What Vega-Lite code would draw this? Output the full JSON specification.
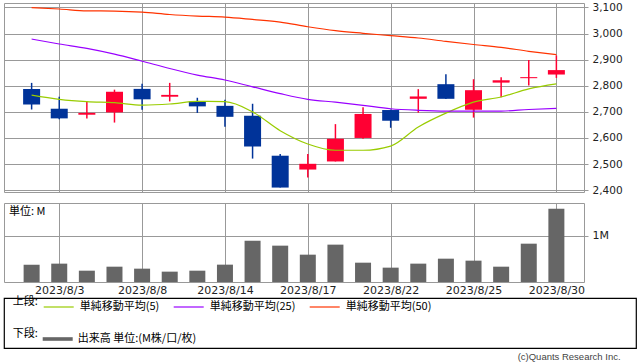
{
  "$schema": "https://vega.github.io/schema/vega-lite/v6.json",
  "padding": {"left": 3, "top": 1, "right": 0, "bottom": 0},
  "background": "white",
  "datasets": {
    "px": [
      {"d": "2023-08-02", "o": 2788, "h": 2811, "l": 2709, "c": 2728, "v": 377000, "m5": 2764, "m25": 2979, "m50": 3099},
      {"d": "2023-08-03", "o": 2712, "h": 2758, "l": 2672, "c": 2675, "v": 399000, "m5": 2748, "m25": 2960, "m50": 3094},
      {"d": "2023-08-04", "o": 2689, "h": 2739, "l": 2675, "c": 2696, "v": 246000, "m5": 2739, "m25": 2943, "m50": 3087},
      {"d": "2023-08-07", "o": 2698, "h": 2785, "l": 2659, "c": 2777, "v": 333000, "m5": 2735, "m25": 2921, "m50": 3086},
      {"d": "2023-08-08", "o": 2788, "h": 2808, "l": 2708, "c": 2748, "v": 290000, "m5": 2726, "m25": 2894, "m50": 3082},
      {"d": "2023-08-09", "o": 2758, "h": 2811, "l": 2740, "c": 2765, "v": 225000, "m5": 2730, "m25": 2866, "m50": 3073},
      {"d": "2023-08-10", "o": 2740, "h": 2754, "l": 2696, "c": 2721, "v": 246000, "m5": 2740, "m25": 2841, "m50": 3067},
      {"d": "2023-08-14", "o": 2723, "h": 2746, "l": 2643, "c": 2681, "v": 377000, "m5": 2739, "m25": 2822, "m50": 3063},
      {"d": "2023-08-15", "o": 2685, "h": 2731, "l": 2521, "c": 2567, "v": 899000, "m5": 2700, "m25": 2796, "m50": 3054},
      {"d": "2023-08-16", "o": 2532, "h": 2539, "l": 2410, "c": 2410, "v": 790000, "m5": 2628, "m25": 2770, "m50": 3044},
      {"d": "2023-08-17", "o": 2479, "h": 2539, "l": 2449, "c": 2501, "v": 594000, "m5": 2577, "m25": 2748, "m50": 3026},
      {"d": "2023-08-18", "o": 2510, "h": 2653, "l": 2510, "c": 2597, "v": 812000, "m5": 2553, "m25": 2737, "m50": 3011},
      {"d": "2023-08-21", "o": 2600, "h": 2718, "l": 2597, "c": 2692, "v": 420000, "m5": 2553, "m25": 2725, "m50": 3001},
      {"d": "2023-08-22", "o": 2707, "h": 2709, "l": 2639, "c": 2666, "v": 312000, "m5": 2569, "m25": 2712, "m50": 2992},
      {"d": "2023-08-23", "o": 2750, "h": 2787, "l": 2697, "c": 2759, "v": 399000, "m5": 2642, "m25": 2706, "m50": 2983},
      {"d": "2023-08-24", "o": 2806, "h": 2844, "l": 2749, "c": 2750, "v": 507000, "m5": 2695, "m25": 2703, "m50": 2970},
      {"d": "2023-08-25", "o": 2708, "h": 2825, "l": 2678, "c": 2783, "v": 464000, "m5": 2737, "m25": 2703, "m50": 2958},
      {"d": "2023-08-28", "o": 2812, "h": 2833, "l": 2756, "c": 2821, "v": 333000, "m5": 2757, "m25": 2703, "m50": 2947},
      {"d": "2023-08-29", "o": 2829, "h": 2899, "l": 2801, "c": 2833, "v": 833000, "m5": 2788, "m25": 2709, "m50": 2932},
      {"d": "2023-08-30", "o": 2843, "h": 2916, "l": 2830, "c": 2860, "v": 1594000, "m5": 2807, "m25": 2713, "m50": 2919}
    ]
  },
  "title": {"text": "(c)Quants Research Inc.", "orient": "bottom", "anchor": "end", "fontSize": 9.5, "fontWeight": "normal", "font": "Liberation Sans", "color": "#444", "offset": 3, "dx": -16},
  "spacing": 1,
  "resolve": {"scale": {"color": "shared", "fill": "shared"}, "legend": {"color": "shared", "fill": "shared"}},
  "vconcat": [
    {
      "spacing": 11,
      "bounds": "flush",
      "resolve": {"scale": {"color": "shared", "fill": "shared"}, "legend": {"color": "shared", "fill": "shared"}},
      "vconcat": [
        {
          "width": 580,
          "height": 189,
          "data": {"name": "px"},
          "encoding": {
            "x": {
              "field": "d", "type": "ordinal",
              "scale": {"type": "point", "padding": 1.875},
              "axis": {"values": ["2023-08-03", "2023-08-08", "2023-08-14", "2023-08-17", "2023-08-22", "2023-08-25", "2023-08-30"], "labels": false, "ticks": false, "domain": false, "grid": true, "title": null}
            }
          },
          "layer": [
            {
              "mark": {"type": "rule", "strokeWidth": 1.5},
              "encoding": {
                "y": {"field": "l", "type": "quantitative", "scale": {"domain": [2393, 3117], "nice": false, "zero": false},
                  "axis": {"orient": "right", "values": [2400, 2500, 2600, 2700, 2800, 2900, 3000, 3100], "format": ",.0f", "tickSize": 4, "labelPadding": 4, "labelFontSize": 10.5, "labelOverlap": false, "grid": true, "domain": false, "title": null}},
                "y2": {"field": "h"},
                "color": {"condition": {"test": "datum.c >= datum.o", "value": "#ff0033"}, "value": "#003399"}
              }
            },
            {
              "mark": {"type": "bar", "size": 17},
              "encoding": {
                "y": {"field": "o", "type": "quantitative",
                  "axis": {"orient": "right", "values": [2400, 2500, 2600, 2700, 2800, 2900, 3000, 3100], "format": ",.0f", "tickSize": 4, "labelPadding": 4, "labelFontSize": 10.5, "labelOverlap": false, "grid": true, "domain": false, "title": null}},
                "y2": {"field": "c"},
                "color": {"condition": {"test": "datum.c >= datum.o", "value": "#ff0033"}, "value": "#003399"}
              }
            },
            {
              "transform": [{"fold": ["m5", "m25", "m50"], "as": ["k", "mv"]}],
              "mark": {"type": "line", "strokeWidth": 1.2, "interpolate": "monotone"},
              "encoding": {
                "y": {"field": "mv", "type": "quantitative",
                  "axis": {"orient": "right", "values": [2400, 2500, 2600, 2700, 2800, 2900, 3000, 3100], "format": ",.0f", "tickSize": 4, "labelPadding": 4, "labelFontSize": 10.5, "labelOverlap": false, "grid": true, "domain": false, "title": null}},
                "color": {
                  "field": "k", "type": "nominal",
                  "scale": {"domain": ["m5", "m25", "m50"], "range": ["#99cc00", "#9900ff", "#ff3300"]},
                  "legend": {
                    "orient": "none", "legendX": 8.7, "legendY": 288, "direction": "horizontal",
                    "title": "上段:", "titleOrient": "left", "titlePadding": 4,
                    "labelExpr": "datum.label == 'm5' ? '単純移動平均(5)' : datum.label == 'm25' ? '単純移動平均(25)' : '単純移動平均(50)'",
                    "symbolType": "stroke", "symbolSize": 900, "symbolStrokeWidth": 1.2,
                    "labelOffset": 5, "columnPadding": 11, "padding": 0
                  }
                }
              }
            }
          ]
        },
        {
          "width": 580,
          "height": 79,
          "data": {"name": "px"},
          "title": {"text": "単位: M", "anchor": "start", "offset": -14, "dx": 5, "fontSize": 11, "fontWeight": "normal", "font": "Noto Sans CJK JP", "color": "#000"},
          "mark": {"type": "bar", "size": 16},
          "encoding": {
            "x": {
              "field": "d", "type": "ordinal",
              "scale": {"type": "point", "padding": 1.875},
              "axis": {"values": ["2023-08-03", "2023-08-08", "2023-08-14", "2023-08-17", "2023-08-22", "2023-08-25", "2023-08-30"], "labelExpr": "utcFormat(toDate(datum.value), '%Y/%-m/%-d')", "labelAngle": 0, "labelPadding": 2, "ticks": false, "domain": false, "grid": true, "title": null}
            },
            "y": {"field": "v", "type": "quantitative", "scale": {"domain": [0, 1717000], "nice": false},
              "axis": {"orient": "right", "values": [1000000], "format": "~s", "tickSize": 4, "labelPadding": 4, "grid": true, "domain": false, "title": null}},
            "fill": {
              "datum": "出来高 単位:(M株/口/枚)", "type": "nominal",
              "scale": {"range": ["#666666"]},
              "legend": {
                "orient": "none", "legendX": 8.7, "legendY": 321, "direction": "horizontal",
                "title": "下段:", "titleOrient": "left", "titlePadding": 4,
                "symbolType": "M-1,-0.12H1V0.12H-1Z", "symbolSize": 900, "symbolStrokeWidth": 0,
                "labelOffset": 5, "padding": 0
              }
            }
          }
        }
      ]
    },
    {
      "width": 632,
      "height": 50,
      "data": {"values": []},
      "mark": {"type": "rule"},
      "encoding": {},
      "view": {"stroke": "#000", "strokeWidth": 1.2}
    }
  ],
  "config": {
    "view": {"stroke": "#999", "strokeWidth": 1},
    "axis": {"gridColor": "#999", "gridOpacity": 1, "tickColor": "#999", "labelColor": "#222", "labelFont": "DejaVu Sans", "labelFontSize": 11},
    "legend": {"titleFont": "Noto Sans CJK JP", "titleFontSize": 11, "titleFontWeight": "normal", "titleColor": "#000", "labelFont": "Noto Sans CJK JP", "labelFontSize": 11, "labelColor": "#000"}
  }
}
